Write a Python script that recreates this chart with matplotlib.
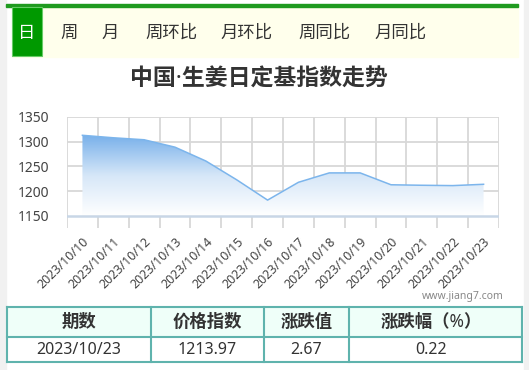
import numpy as np
import matplotlib.pyplot as plt
from matplotlib.colors import LinearSegmentedColormap
from matplotlib.patches import Rectangle

plt.rcParams['font.family'] = ['Noto Sans', 'Noto Sans CJK SC', 'DejaVu Sans']

dates = ['2023/10/10', '2023/10/11', '2023/10/12', '2023/10/13', '2023/10/14',
         '2023/10/15', '2023/10/16', '2023/10/17', '2023/10/18', '2023/10/19',
         '2023/10/20', '2023/10/21', '2023/10/22', '2023/10/23']
index_vals = [1313, 1308, 1304, 1289, 1261, 1223, 1182, 1218, 1237, 1237,
              1213, 1212, 1211.30, 1213.97]
yticks = [1150, 1200, 1250, 1300, 1350]

tabs = ['周', '月', '周环比', '月环比', '周同比', '月同比']
tab_x = [69, 110, 171, 247, 324, 401]

headers = ['期数', '价格指数', '涨跌值', '涨跌幅（%）']
row = ['2023/10/23', '1213.97', '2.67', '0.22']
col_edges = [7, 151, 264, 349, 522]

W, H = 529, 370
fig = plt.figure(figsize=(W / 100, H / 100), dpi=100)
fig.patch.set_facecolor('white')

def fx(px):
    return px / W

def fy(py):
    return 1 - py / H

# page side strips
fig.patches.append(Rectangle((0, 0), fx(6), 1, transform=fig.transFigure, color='#f1f1f1', zorder=0))
fig.patches.append(Rectangle((fx(524), 0), fx(5), 1, transform=fig.transFigure, color='#f1f1f1', zorder=0))

# tab bar
fig.patches.append(Rectangle((fx(12), fy(57)), fx(506), fy(6) - fy(57), transform=fig.transFigure,
                             color='#ffffec', zorder=1))
fig.patches.append(Rectangle((fx(6), fy(6.5)), fx(512), fy(4) - fy(6.5), transform=fig.transFigure,
                             color='#1f9a1f', zorder=2))
fig.patches.append(Rectangle((fx(12), fy(56)), fx(30), fy(7) - fy(56), transform=fig.transFigure,
                             facecolor='#009900', edgecolor='#66cc66', linewidth=0.8, zorder=2))
fig.text(fx(27), fy(33), '日', color='white', fontsize=12.5, ha='center', va='center', zorder=3)
for t, x in zip(tabs, tab_x):
    fig.text(fx(x), fy(33), t, color='#333333', fontsize=12.5, ha='center', va='center', zorder=3)

# title
fig.text(fx(259), fy(80), '中国·生姜日定基指数走势', color='#333333', fontsize=16.5,
         fontweight='bold', ha='center', va='center')

# chart
ax = fig.add_axes([fx(67), fy(228), fx(499 - 67), fy(117) - fy(228)])
x = np.arange(len(dates))

for gx in np.arange(-0.5, len(dates), 1):
    ax.axvline(gx, color='#d8d8d8', linewidth=1.3, zorder=0.5)
for gy in yticks[1:]:
    ax.axhline(gy, color='#d8d8d8', linewidth=1.3, zorder=0.5)

poly = ax.fill_between(x, index_vals, 1150, color='none', linewidth=0)
grad = np.linspace(0, 1, 256).reshape(-1, 1)
cmap = LinearSegmentedColormap.from_list('g', ['#ffffff', '#d6e7f8', '#78b0ea'])
im = ax.imshow(grad, extent=[-0.5, 13.5, 1150, max(index_vals)], aspect='auto',
               cmap=cmap, origin='lower', zorder=1)
im.set_clip_path(poly.get_paths()[0], transform=ax.transData)
ax.plot(x, index_vals, color='#7cb5ec', linewidth=1.1, zorder=3)
ax.axhline(1150, color='#c8d6e6', linewidth=1.8, zorder=2)

ax.set_xlim(-0.5, 13.5)
ax.set_ylim(1125.6, 1350)
ax.set_yticks(yticks)
ax.set_yticklabels([str(v) for v in yticks], fontsize=10, color='#444444')
ax.set_xticks(x)
ax.set_xticklabels(dates, rotation=45, ha='right', va='top', rotation_mode='anchor',
                   fontsize=9, color='#444444')
ax.tick_params(axis='both', which='both', length=0)
ax.tick_params(axis='y', pad=13)
ax.tick_params(axis='x', pad=5)
for s in ax.spines.values():
    s.set_visible(False)
ax.set_facecolor('none')

fig.text(fx(504), fy(297), 'www.jiang7.com', color='#888888', fontsize=7.5, ha='right', va='center')

# table
top, mid, bot = 307, 337, 361.5
fig.patches.append(Rectangle((fx(7), fy(mid)), fx(515), fy(top) - fy(mid), transform=fig.transFigure,
                             facecolor='#effff9', edgecolor='none', zorder=1))
tcol = '#5fb3ad'
for yy in (top, mid, bot):
    fig.add_artist(plt.Line2D([fx(7), fx(522)], [fy(yy), fy(yy)], color=tcol, linewidth=1.5))
for xx in col_edges:
    fig.add_artist(plt.Line2D([fx(xx), fx(xx)], [fy(top), fy(bot)], color=tcol, linewidth=1.5))
for i in range(4):
    cx = (col_edges[i] + col_edges[i + 1]) / 2
    if i == 3:
        cx -= 4
    fig.text(fx(cx), fy(322), headers[i], color='#333333', fontsize=12.5, fontweight='bold',
             ha='center', va='center')
    fig.text(fx(cx), fy(349.5), row[i], color='#333333', fontsize=11.5, ha='center', va='center')

fig.savefig('out.png', dpi=100)
